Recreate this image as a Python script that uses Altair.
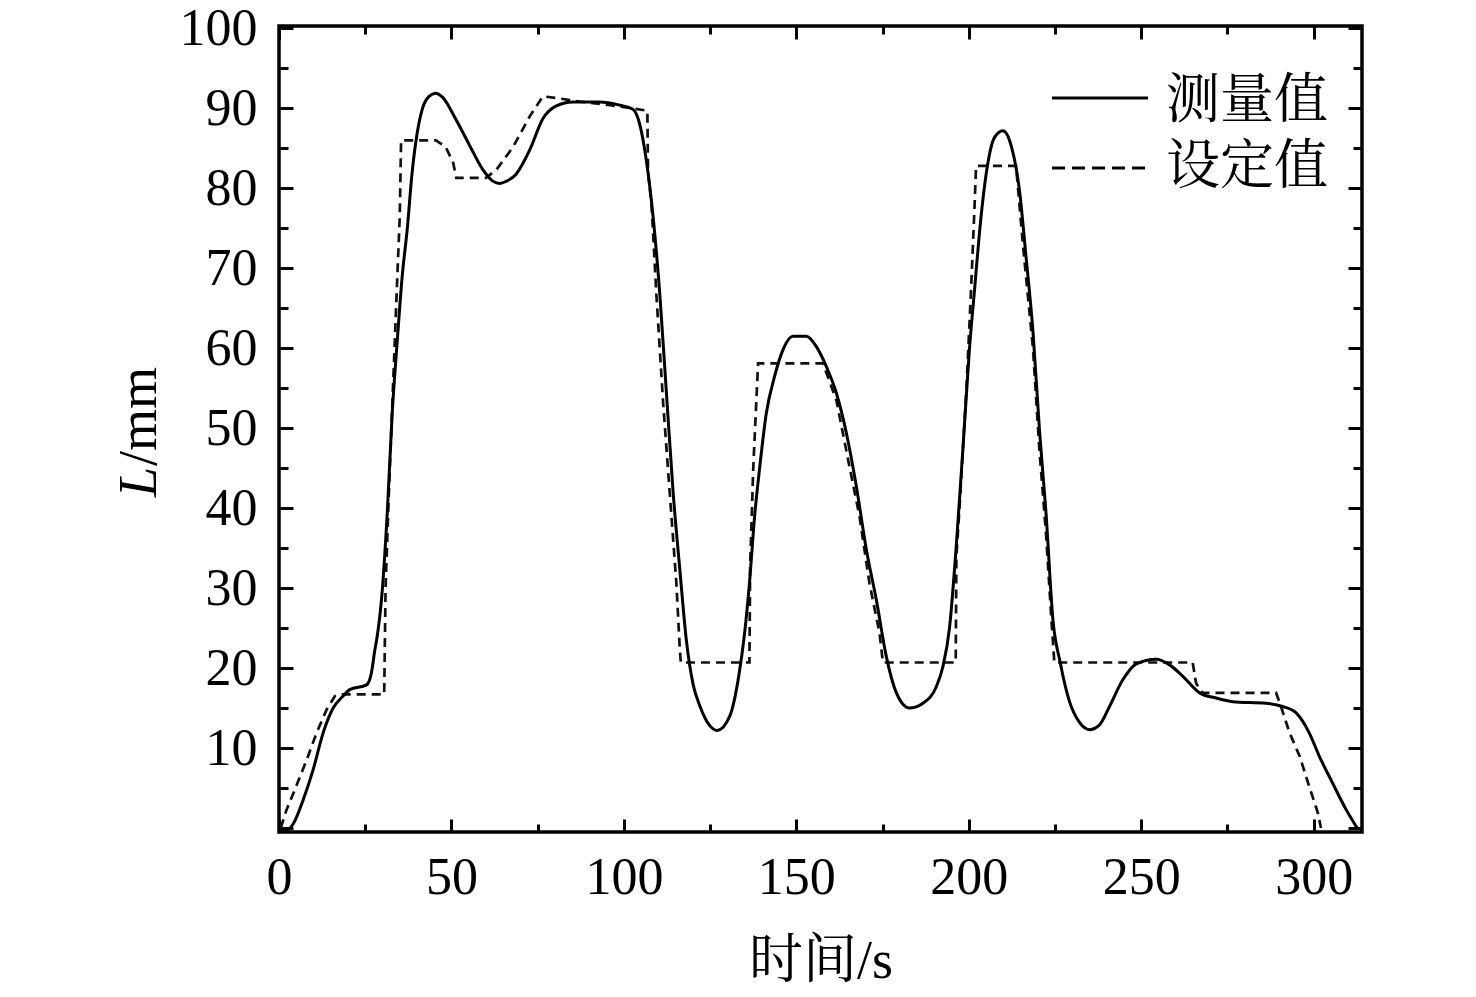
import altair as alt
import pandas as pd

# ---- data ----
meas_t = [0, 2.5, 4.1, 7, 9.9, 12.8, 15.7, 18.6, 20.5, 25.4,
          26.8, 27.8, 28.3, 29.9, 31.4, 32.8, 34.3, 35.7, 37.2, 38.6,
          40.1, 41.6, 43.5, 45.4, 47.4, 51.3, 55.1, 59, 62, 64,
          66, 68.8, 72.7, 76.5, 80.4, 85.2, 92.9, 98.8, 102.6, 104.6,
          106.5, 108.5, 110.4, 112.3, 114.3, 116.2, 118.1, 120.1, 122, 124.9,
          127, 130.7, 133.3, 135, 136.4, 137.9, 139.4, 141.3, 143.7, 146.1,
          149, 152.9, 155.8, 158.7, 161.6, 164.5, 167.4, 170.3, 173.2, 176.1,
          179, 182.8, 186.7, 190.6, 192.5, 194.4, 196.4, 198.3, 200.2, 201.7,
          203.1, 205, 207.5, 209.9, 212.3, 214.7, 216.6, 218.6, 220.5, 222.4,
          224.4, 226.5, 229.2, 232.1, 235, 237.9, 240.8, 244.6, 248.5, 254.3,
          258.2, 262, 266.9, 271.7, 276.5, 286.2, 291, 294.9, 298.7, 301.6,
          305.5, 309.4, 312.6]
meas_L = [-0.4, -0.2, 0.5, 3.5, 7.3, 11.9, 15, 16.5, 17.3, 17.9,
          19.4, 22.3, 23.5, 29.5, 39.5, 51.7, 61, 68.9, 75, 82,
          87, 90, 91.5, 91.9, 91.4, 88.6, 85.5, 82.4, 80.9, 80.6,
          80.9, 81.8, 84.8, 88.7, 90.3, 90.8, 90.8, 90.4, 89.9, 88,
          83.5, 76.3, 66.8, 54.6, 41.8, 32.4, 23.5, 17.9, 15.3, 12.8,
          12.2, 14, 19, 24.4, 30.6, 39, 45.2, 51.9, 56.5, 59.8,
          61.5, 61.5, 60.2, 57.7, 54.4, 49.4, 42.7, 34.8, 28.5, 21.4,
          16.9, 15, 15.6, 17.7, 20.2, 25, 35.5, 47.5, 60, 67.5,
          74.5, 81.7, 86.4, 87.2, 85.3, 79.7, 71.4, 62.1, 49.7, 39.3,
          26, 20.7, 15.8, 13.2, 12.3, 12.9, 15.2, 18.5, 20.5, 21.1,
          20.4, 19, 16.9, 16.25, 15.8, 15.6, 15.2, 14.4, 11.9, 9,
          5.6, 2.3, 0]

set_t = [0.5, 2.2, 4.6, 8, 10.9, 13.8, 16.2, 17.5, 30.5, 30.9,
         31.8, 33.3, 34.3, 35, 35.4, 45.5, 48.3, 50.5, 51.4, 60,
         63, 67.9, 72.7, 76.5, 80.4, 88, 96, 102.6, 106.8, 107,
         108, 109.4, 111.4, 113.3, 115.2, 116.2, 116.5, 136.4, 136.6, 137.5,
         138.9, 157.7, 159.5, 161.6, 165.4, 168.3, 171.2, 174.1, 175.1, 196.2,
         196.4, 197.3, 199.3, 200.7, 201.7, 202.1, 213.7, 215.7, 218.6, 220.5,
         222.4, 223.9, 224.8, 264.9, 265.9, 267.8, 289.1, 290.5, 293, 295.9,
         298.7, 301.2, 302.1]
set_L = [0, 2.3, 4.8, 8.5, 11.9, 14.8, 16.5, 16.7, 16.7, 30,
         41.3, 57.9, 68.9, 76.3, 86, 86, 85.2, 83.2, 81.3, 81.3,
         82.3, 85.2, 89, 91.5, 91.3, 90.8, 90.4, 90, 89.7, 82,
         78, 66.8, 53, 41.8, 30.7, 22.4, 20.7, 20.7, 32.7, 45,
         58.1, 58.1, 56, 53.5, 45.2, 39, 30.6, 24.4, 20.7, 20.7,
         34, 40, 54.8, 67.8, 78.1, 82.8, 82.8, 72.9, 60, 47.1,
         36.7, 26.4, 20.7, 20.7, 18.1, 16.9, 16.9, 15.2, 11.9, 9,
         5.2, 1.9, 0]

legend_labels = ["测量值", "设定值"]
x_title = "时间/s"
y_title_italic = "L"
y_title_rest = "/mm"

x_label_vals = [0, 50, 100, 150, 200, 250, 300]
y_label_vals = [10, 20, 30, 40, 50, 60, 70, 80, 90, 100]
x_tick_vals = list(range(0, 301, 25))
y_tick_vals = list(range(0, 101, 5))

# ---- layout ----
W, H = 1083, 806
FONT = "Liberation Serif, 'Times New Roman', 'Noto Serif CJK SC', 'Noto Sans CJK SC', serif"

meas = pd.DataFrame({"t": meas_t, "L": meas_L})
sett = pd.DataFrame({"t": set_t, "L": set_L})

xsc = alt.Scale(domain=[0, 314], nice=False, zero=False)
ysc = alt.Scale(domain=[-0.5, 100.3], nice=False, zero=False)

xt = {"condition": {"test": "datum.value % 50 === 0", "value": 13}, "value": 8}
yt = {"condition": {"test": "datum.value % 10 === 0", "value": 14}, "value": 9}


def tick_axis(orient, vals, size, offset):
    return alt.Axis(orient=orient, values=vals, labels=False, domain=False, grid=False,
                    ticks=True, tickSize=size, tickWidth=3, tickColor="black",
                    offset=offset, title=None)


x_label_axis = alt.Axis(orient="bottom", values=x_label_vals, ticks=False, tickSize=0,
                        domain=False, grid=False, labelFont=FONT, labelFontSize=52,
                        labelColor="black", labelPadding=20, labelFlush=False,
                        title=x_title, titleFont=FONT, titleFontSize=54,
                        titleFontWeight="normal", titleColor="black",
                        titleY=129, titleBaseline="middle")
y_label_axis = alt.Axis(orient="left", values=y_label_vals, ticks=False, tickSize=0,
                        domain=False, grid=False, labelFont=FONT, labelFontSize=52,
                        labelColor="black", labelPadding=22, labelFlush=False,
                        title=None)

line_meas = alt.Chart(meas).mark_line(color="black", strokeWidth=3,
                                       interpolate="monotone").encode(
    x=alt.X("t:Q", scale=xsc, axis=x_label_axis),
    y=alt.Y("L:Q", scale=ysc, axis=y_label_axis),
)

line_set = alt.Chart(sett).mark_line(color="#111111", strokeWidth=2.7,
                                      strokeDash=[9, 6]).encode(
    x=alt.X("t:Q", scale=xsc, axis=tick_axis("top", x_tick_vals, xt, -H)),
    y=alt.Y("L:Q", scale=ysc, axis=tick_axis("right", y_tick_vals, yt, -W)),
)

ghost = alt.Chart(meas).mark_line(strokeOpacity=0).encode(
    x=alt.X("t:Q", scale=xsc, axis=tick_axis("bottom", x_tick_vals, xt, -H)),
    y=alt.Y("L:Q", scale=ysc, axis=tick_axis("left", y_tick_vals, yt, -W)),
)

one = pd.DataFrame({"k": [0]})
leg_solid = alt.Chart(one).mark_rule(color="black", strokeWidth=3).encode(
    x=alt.value(773), x2=alt.value(869), y=alt.value(72))
leg_dash = alt.Chart(one).mark_rule(color="black", strokeWidth=3,
                                    strokeDash=[13, 7]).encode(
    x=alt.value(773), x2=alt.value(869), y=alt.value(142))
leg_t1 = alt.Chart(pd.DataFrame({"s": [legend_labels[0]]})).mark_text(
    align="left", baseline="middle", font=FONT, fontSize=54, color="black").encode(
    x=alt.value(887), y=alt.value(76), text="s:N")
leg_t2 = alt.Chart(pd.DataFrame({"s": [legend_labels[1]]})).mark_text(
    align="left", baseline="middle", font=FONT, fontSize=54, color="black").encode(
    x=alt.value(887), y=alt.value(142), text="s:N")

yt1 = alt.Chart(pd.DataFrame({"s": [y_title_italic]})).mark_text(
    angle=270, align="left", baseline="middle", font=FONT, fontSize=54,
    fontStyle="italic", color="black").encode(
    x=alt.value(-139), y=alt.value(471), text="s:N")
yt2 = alt.Chart(pd.DataFrame({"s": [y_title_rest]})).mark_text(
    angle=270, align="left", baseline="middle", font=FONT, fontSize=54,
    color="black").encode(
    x=alt.value(-139), y=alt.value(440), text="s:N")

chart = alt.layer(
    ghost, line_set, line_meas, leg_solid, leg_dash, leg_t1, leg_t2, yt1, yt2
).resolve_axis(
    x="independent", y="independent"
).properties(
    width=W, height=H,
    padding={"left": 271, "top": 18, "right": 100, "bottom": 163},
    autosize=alt.AutoSizeParams(type="none"),
    background="white",
).configure_view(
    stroke="black", strokeWidth=3.5
)

chart.save("out.html", embed_options={"renderer": "svg", "actions": False})
